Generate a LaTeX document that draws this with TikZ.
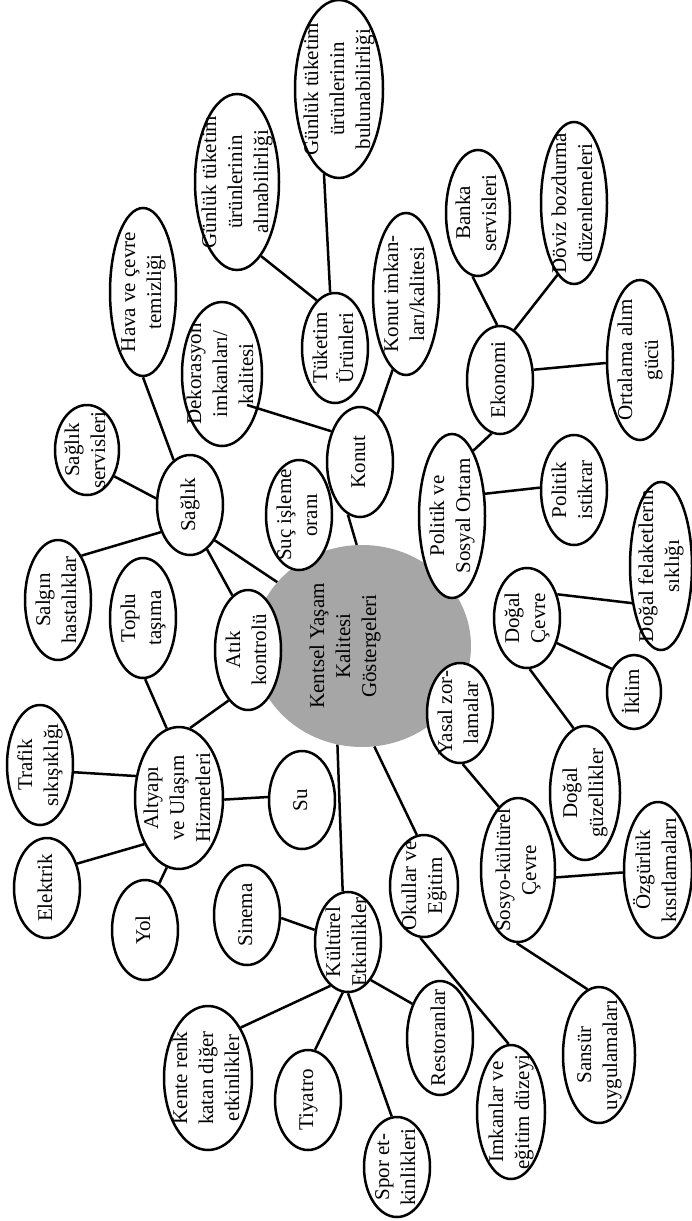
\documentclass[tikz,border=0pt]{standalone}
\usepackage{fontspec}
\setmainfont{Liberation Serif}
\usepackage{graphicx}
\usetikzlibrary{shapes.geometric}
\definecolor{cgray}{RGB}{166,166,166}
\newcommand{\rt}[1]{\rotatebox{90}{\begin{tabular}{@{}c@{}}#1\end{tabular}}}
\tikzset{
  bub/.style={ellipse, draw, line width=2.5pt, fill=white, inner sep=-60pt, font=\fontsize{21}{26}\selectfont},
  hub/.style={ellipse, fill=cgray, inner sep=-60pt, font=\fontsize{21}{26}\selectfont},
  conn/.style={line width=2.5pt},
}
\begin{document}
\begin{tikzpicture}[x=1pt,y=-1pt]
\useasboundingbox (0,0) rectangle (692,1221);
\fill[white] (0,0) rectangle (692,1221);
% centre
\node[hub, minimum width=218pt, minimum height=202pt] (cen) at (362,646) {\rt{Kentsel Yaşam\\Kalitesi\\Göstergeleri}\hspace*{34pt}};
% nodes
\node[bub, minimum width=66pt, minimum height=120pt] (atik) at (248,650) {\rt{Atık\\kontrolü}};
\node[bub, minimum width=66pt, minimum height=100pt] (sag) at (190,505) {\rt{Sağlık}};
\node[bub, minimum width=64pt, minimum height=90pt] (sagser) at (87,450) {\rt{Sağlık\\servisleri}};
\node[bub, minimum width=66pt, minimum height=120pt] (salgin) at (58,600) {\rt{Salgın\\hastalıklar}};
\node[bub, minimum width=66pt, minimum height=120pt] (toplu) at (143,618) {\rt{Toplu\\taşıma}};
\node[bub, minimum width=66pt, minimum height=110pt] (suc) at (299,515) {\rt{Suç işleme\\oranı}};
\node[bub, minimum width=66pt, minimum height=120pt] (trafik) at (40,765) {\rt{Trafik\\sıkışıklığı}};
\node[bub, minimum width=88pt, minimum height=142pt] (alt) at (179,798) {\rt{Altyapı\\ve Ulaşım\\Hizmetleri}};
\node[bub, minimum width=66pt, minimum height=98pt] (su) at (302,800) {\rt{Su}};
\node[bub, minimum width=66pt, minimum height=100pt] (elek) at (47,888) {\rt{Elektrik}};
\node[bub, minimum width=66pt, minimum height=100pt] (yol) at (145,930) {\rt{Yol}};
\node[bub, minimum width=66pt, minimum height=100pt] (sinema) at (247,915) {\rt{Sinema}};
\node[bub, minimum width=66pt, minimum height=100pt] (kult) at (348,942) {\rt{Kültürel\\Etkinlikler}};
\node[bub, minimum width=88pt, minimum height=144pt] (kente) at (208,1078) {\rt{Kente renk\\katan diğer\\etkinlikler}};
\node[bub, minimum width=66pt, minimum height=100pt] (tiy) at (308,1100) {\rt{Tiyatro}};
\node[bub, minimum width=66pt, minimum height=100pt] (spor) at (397,1167) {\rt{Spor et-\\kinlikleri}};
\node[bub, minimum width=66pt, minimum height=114pt] (rest) at (440,1038) {\rt{Restoranlar}};
\node[bub, minimum width=68pt, minimum height=102pt] (okul) at (424,886) {\rt{Okullar ve\\Eğitim}};
\node[bub, minimum width=68pt, minimum height=134pt] (imkan) at (511,1112) {\rt{Imkanlar ve\\eğitim düzeyi}};
\node[bub, minimum width=74pt, minimum height=144pt] (sosyo) at (518,870) {\rt{Sosyo-kültürel\\Çevre}};
\node[bub, minimum width=72pt, minimum height=136pt] (sansur) at (599,1055) {\rt{Sansür\\uygulamaları}};
\node[bub, minimum width=68pt, minimum height=136pt] (ozgur) at (658,870) {\rt{Özgürlük\\kısıtlamaları}};
\node[bub, minimum width=70pt, minimum height=134pt] (dguz) at (585,793) {\rt{Doğal\\güzellikler}};
\node[bub, minimum width=66pt, minimum height=100pt] (yasal) at (460,713) {\rt{Yasal zor-\\lamalar}};
\node[bub, minimum width=66pt, minimum height=100pt] (dcevre) at (527,618) {\rt{Doğal\\Çevre}};
\node[bub, minimum width=54pt, minimum height=74pt] (iklim) at (634,692) {\rt{İklim}};
\node[bub, minimum width=62pt, minimum height=168pt] (dfel) at (661,566) {\rt{Doğal felaketlerin\\sıklığı}};
\node[bub, minimum width=66pt, minimum height=164pt] (polsos) at (452,516) {\rt{Politik ve\\Sosyal Ortam}};
\node[bub, minimum width=66pt, minimum height=110pt] (polist) at (574,490) {\rt{Politik\\istikrar}};
\node[bub, minimum width=66pt, minimum height=110pt] (konut) at (360,462) {\rt{Konut}};
\node[bub, minimum width=66pt, minimum height=108pt] (eko) at (500,380) {\rt{Ekonomi}};
\node[bub, minimum width=64pt, minimum height=126pt] (banka) at (478,213) {\rt{Banka\\servisleri}};
\node[bub, minimum width=66pt, minimum height=162pt] (doviz) at (574,203) {\rt{Döviz bozdurma\\düzenlemeleri}};
\node[bub, minimum width=66pt, minimum height=160pt] (ort) at (640,360) {\rt{Ortalama alım\\gücü}};
\node[bub, minimum width=66pt, minimum height=162pt] (konimk) at (406,294) {\rt{Konut imkan-\\ları/kalitesi}};
\node[bub, minimum width=66pt, minimum height=110pt] (tuk) at (335,348) {\rt{Tüketim\\Ürünleri}};
\node[bub, minimum width=84pt, minimum height=176pt] (galin) at (237,182) {\rt{Günlük tüketim\\ürünlerinin\\alınabilirliği}};
\node[bub, minimum width=88pt, minimum height=178pt] (gbul) at (339,89) {\rt{Günlük tüketim\\ürünlerinin\\bulunabilirliği}};
\node[bub, minimum width=80pt, minimum height=144pt] (dekor) at (222,374) {\rt{Dekorasyon\\imkanları/\\kalitesi}};
\node[bub, minimum width=66pt, minimum height=168pt] (hava) at (143,292) {\rt{Hava ve çevre\\temizliği}};
\coordinate (dekin) at (247,405);
% connectors
\draw[conn] (sag.-69) -- (atik.106);
\draw[conn] (sag.-55) -- (cen.143);
\draw[conn] (atik.-111) -- (alt.81);
\draw[conn] (alt.100) -- (toplu.-88);
\draw[conn] (alt.153) -- (trafik.-12);
\draw[conn] (alt.-2) -- (su.175);
\draw[conn] (alt.-127) -- (elek.39);
\draw[conn] (alt.-100) -- (yol.73);
\draw[conn] (sag.169) -- (sagser.-44);
\draw[conn] (sag.-137) -- (salgin.62);
\draw[conn] (sag.110) -- (hava.-90);
\draw[conn] (cen.-104) -- (kult.96);
\draw[conn] (kult.160) -- (sinema.-5);
\draw[conn] (kult.-112) -- (kente.57);
\draw[conn] (kult.-96) -- (tiy.82);
\draw[conn] (kult.-90) -- (spor.96);
\draw[conn] (kult.-59) -- (rest.129);
\draw[conn] (cen.-83) -- (okul.98);
\draw[conn] (okul.-94) -- (imkan.92);
\draw[conn] (yasal.-87) -- (sosyo.107);
\draw[conn] (sosyo.-11) -- (ozgur.-176);
\draw[conn] (sosyo.-91) -- (sansur.100);
\draw[conn] (dcevre.-87) -- (dguz.100);
\draw[conn] (dcevre.-40) -- (iklim.134);
\draw[conn] (dcevre.38) -- (dfel.-128);
\draw[conn] (polsos.34) -- (polist.176);
\draw[conn] (polsos.72) -- (eko.-99);
\draw[conn] (eko.93) -- (banka.-95);
\draw[conn] (eko.74) -- (doviz.-103);
\draw[conn] (eko.17) -- (ort.-175);
\draw[conn] (konut.70) -- (konimk.-100);
\draw[conn] (konut.-103) -- (cen.93);
\draw[conn] (konut.133) -- (dekin);
\draw[conn] (tuk.111) -- (galin.-72);
\draw[conn] (tuk.95) -- (gbul.-100);
\end{tikzpicture}
\end{document}
